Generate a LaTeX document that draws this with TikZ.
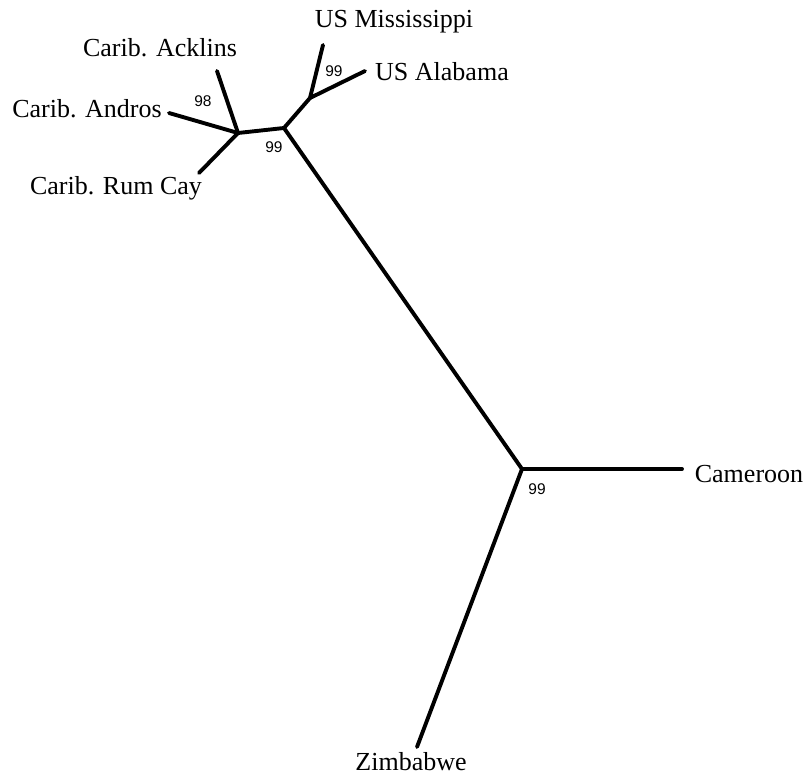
\documentclass[tikz,border=0pt]{standalone}
\usepackage{fontspec}
\setmainfont{Liberation Serif}
\newfontfamily\bootfont{Liberation Sans}
\begin{document}
\begin{tikzpicture}[x=1pt,y=-1pt,
  branch/.style={line width=3.9pt,line cap=round,line join=round},
  taxon/.style={font=\fontsize{26}{29}\selectfont,inner sep=0pt,anchor=base},
  boot/.style={font=\bootfont\fontsize{15.5}{17}\selectfont,inner sep=0pt}]
\useasboundingbox (0,0) rectangle (807,775);
% internal nodes
\coordinate (root) at (522,469);
\coordinate (mid) at (284,128);
\coordinate (car) at (238,133);
\coordinate (us) at (310,98);
% tips
\coordinate (tAck) at (217,71);
\coordinate (tAnd) at (169,113);
\coordinate (tRum) at (199,173);
\coordinate (tMis) at (323,45);
\coordinate (tAla) at (365,71);
\coordinate (tCam) at (682,469);
\coordinate (tZim) at (417,747);
% branches
\draw[branch] (root) -- (mid);
\draw[branch] (root) -- (tCam);
\draw[branch] (root) -- (tZim);
\draw[branch] (mid) -- (car);
\draw[branch] (mid) -- (us);
\draw[branch] (car) -- (tAck);
\draw[branch] (car) -- (tAnd);
\draw[branch] (car) -- (tRum);
\draw[branch] (us) -- (tMis);
\draw[branch] (us) -- (tAla);
% taxon labels
\node[taxon] (lAck) at (160,57) {Carib. Acklins};
\node[taxon] (lAnd) at (87,118) {Carib. Andros};
\node[taxon] (lRum) at (116,195) {Carib. Rum Cay};
\node[taxon] (lMis) at (394,28) {US Mississippi};
\node[taxon] (lAla) at (442,81) {US Alabama};
\node[taxon] (lCam) at (749,483) {Cameroon};
\node[taxon] (lZim) at (411,771) {Zimbabwe};
% bootstrap values
\node[boot] (bCar) at (203,101) {98};
\node[boot] (bMid) at (274,147) {99};
\node[boot] (bUS) at (334,71) {99};
\node[boot] (bRoot) at (537,489) {99};
\end{tikzpicture}
\end{document}
